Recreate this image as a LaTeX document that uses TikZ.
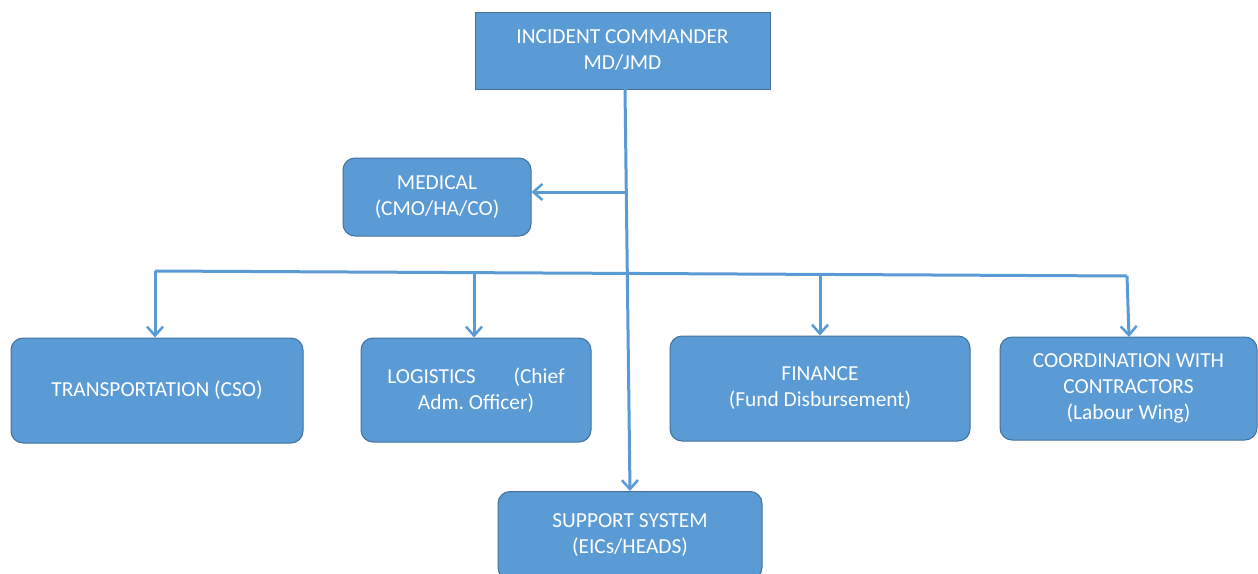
\documentclass[tikz,border=0pt]{standalone}
\usepackage{fontspec}
\setmainfont{Carlito}
\frenchspacing
\usetikzlibrary{arrows.meta}
\definecolor{boxfill}{HTML}{5B9BD5}
\definecolor{boxline}{HTML}{41719C}
\definecolor{conn}{HTML}{5B9BD5}
\begin{document}
\begin{tikzpicture}[x=1pt,y=-1pt,
  box/.style={fill=boxfill,draw=boxline,line width=1pt,text=white,align=center,font=\fontsize{21.4}{26}\selectfont,inner sep=0pt},
  rbox/.style={box,rounded corners=12pt},
  link/.style={draw=conn,line width=3pt},
  arr/.style={link,-{Straight Barb[length=9pt,width=16pt,line width=2.5pt]}}]
\useasboundingbox (0,0) rectangle (1258,573);
\node[box,minimum width=295pt,minimum height=77pt] (ic) at (622.5,50.5) {INCIDENT COMMANDER\\MD/JMD};
\node[rbox,minimum width=188pt,minimum height=78pt] (med) at (437,197) {MEDICAL\\(CMO/HA/CO)};
\node[rbox,minimum width=292pt,minimum height=105pt] (trans) at (157,390.5) {TRANSPORTATION (CSO)};
\node[rbox,minimum width=230pt,minimum height=104pt] (log) at (476,390) {LOGISTICS\hspace{38pt}(Chief\\Adm. Officer)};
\node[rbox,minimum width=300pt,minimum height=105pt] (fin) at (820,388.5) {FINANCE\\(Fund Disbursement)};
\node[rbox,minimum width=257pt,minimum height=103pt] (coord) at (1128.5,388.5) {COORDINATION WITH\\CONTRACTORS\\(Labour Wing)};
\node[rbox,minimum width=264pt,minimum height=88pt,anchor=north] (sup) at (630,491) {SUPPORT SYSTEM\\(EICs/HEADS)};
\coordinate (ttop) at (625,89);
\coordinate (tmed) at (626,192);
\coordinate (busL) at (155,271);
\coordinate (busR) at (1127,276);
\coordinate (bL) at (474,273);
\coordinate (bF) at (820,274);
\draw[arr] (ttop) -- (sup.north);
\draw[arr] (tmed) -- (tmed -| med.east);
\draw[link] (busL) -- (busR);
\draw[arr] (busL) -- (busL |- trans.north);
\draw[arr] (bL) -- (bL |- log.north);
\draw[arr] (bF) -- (bF |- fin.north);
\draw[arr] (busR) -- (1129,337);
\end{tikzpicture}
\end{document}
